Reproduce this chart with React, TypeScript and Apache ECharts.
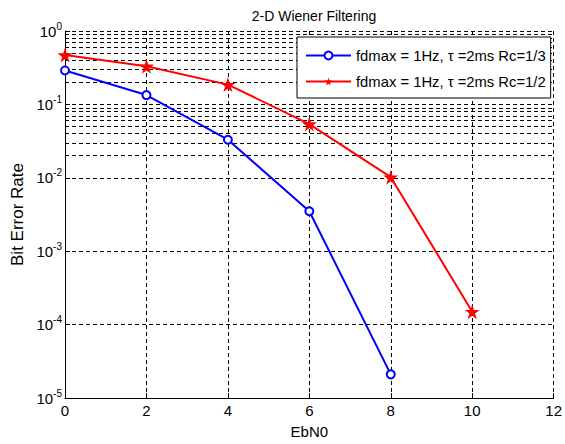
import React, { useEffect, useRef } from "react";
import * as echarts from "echarts";

const titleText = "2-D Wiener Filtering";
const xName = "EbN0";
const yName = "Bit Error Rate";
const seriesNames = [
  "fdmax = 1Hz, \u03c4 =2ms Rc=1/3",
  "fdmax = 1Hz, \u03c4 =2ms Rc=1/2",
];
const ebn0Rc13 = [0, 2, 4, 6, 8];
const berRc13 = [0.29, 0.134, 0.033, 0.0035, 2.1e-5];
const ebn0Rc12 = [0, 2, 4, 6, 8, 10];
const berRc12 = [0.47, 0.33, 0.186, 0.054, 0.0102, 1.5e-4];
const minorMantissas = [2, 3, 4, 5, 6, 7, 8, 9];
const decades = [1e-5, 1e-4, 1e-3, 1e-2, 1e-1];

const FONT = "Liberation Sans";

export default function App() {
  const ref = useRef<HTMLDivElement>(null);
  useEffect(() => {
    document.body.style.margin = "0";
    const chart = echarts.init(ref.current!, null, { renderer: "svg" });
    const minorLines: number[] = [];
    decades.forEach((d) => minorMantissas.forEach((m) => minorLines.push(m * d)));
    const dash = [4, 3];
    chart.setOption({
      animation: false,
      backgroundColor: "#fff",
      textStyle: { fontFamily: FONT },
      title: {
        text: titleText,
        left: 309,
        textAlign: "center",
        top: 4,
        textStyle: { fontFamily: FONT, fontSize: 14, fontWeight: "normal", color: "#000" },
      },
      grid: { left: 65, right: 6.5, top: 31, bottom: 43 },
      legend: {
        z: 50,
        left: 297,
        top: 37,
        orient: "vertical",
        backgroundColor: "#fff",
        borderColor: "#000",
        borderWidth: 1,
        padding: [11, 5, 9, 8],
        itemWidth: 45,
        itemHeight: 10,
        itemGap: 11,
        textStyle: { fontFamily: FONT, fontSize: 14.8, color: "#000" },
        data: seriesNames,
      },
      xAxis: {
        type: "value",
        min: 0,
        max: 12,
        interval: 2,
        name: xName,
        nameLocation: "middle",
        nameGap: 26,
        nameTextStyle: { fontFamily: FONT, fontSize: 15, color: "#000" },
        axisLine: { lineStyle: { color: "#000", width: 1 } },
        axisTick: { inside: true, length: 5, lineStyle: { color: "#000" } },
        axisLabel: { fontFamily: FONT, fontSize: 15, color: "#000", margin: 5 },
        splitLine: { show: true, lineStyle: { color: "#000", type: dash, width: 1 } },
      },
      yAxis: {
        type: "log",
        logBase: 10,
        min: 1e-5,
        max: 1,
        name: yName,
        nameLocation: "middle",
        nameGap: 37,
        nameTextStyle: { fontFamily: FONT, fontSize: 17, color: "#000" },
        axisLine: { show: true, lineStyle: { color: "#000", width: 1 } },
        axisTick: { inside: true, length: 5, lineStyle: { color: "#000" } },
        axisLabel: {
          margin: 3,
          formatter: (v: number) => `{b|10}{s|${Math.round(Math.log10(v))}}`,
          rich: {
            b: { fontFamily: FONT, fontSize: 15, color: "#000" },
            s: { fontFamily: FONT, fontSize: 10, color: "#000", verticalAlign: "bottom", padding: [0, 0, 10, 0] },
          },
        },
        splitLine: { show: true, lineStyle: { color: "#000", type: dash, width: 1 } },
      },
      series: [
        {
          type: "line",
          name: "gridMinor",
          data: [],
          silent: true,
          z: 1,
          markLine: {
            silent: true,
            symbol: "none",
            animation: false,
            z: 1,
            label: { show: false },
            lineStyle: { color: "#000", type: dash, width: 1 },
            data: minorLines.map((v) => ({ yAxis: v })),
          },
        },
        {
          type: "line",
          name: seriesNames[0],
          data: ebn0Rc13.map((x, i) => [x, berRc13[i]]),
          color: "#0000ff",
          lineStyle: { color: "#0000ff", width: 2 },
          symbol: "emptyCircle",
          symbolSize: 8,
          itemStyle: { color: "#0000ff", borderColor: "#0000ff", borderWidth: 2 },
          z: 3,
        },
        {
          type: "line",
          name: seriesNames[1],
          data: ebn0Rc12.map((x, i) => [x, berRc12[i]]),
          color: "#ff0000",
          lineStyle: { color: "#ff0000", width: 2 },
          symbol: "path://M50,0 L61,35 L98,35 L68,57 L79,91 L50,70 L21,91 L32,57 L2,35 L39,35 Z",
          symbolSize: 15,
          itemStyle: { color: "#ff0000" },
          z: 4,
        },
      ],
    });
    return () => chart.dispose();
  }, []);
  return <div ref={ref} style={{ width: 565, height: 444 }} />;
}
